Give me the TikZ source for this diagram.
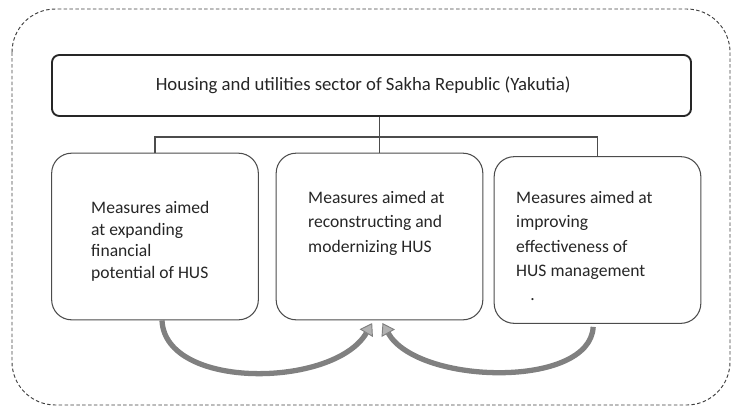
\documentclass[tikz,border=0pt]{standalone}
\usepackage{fontspec}
\setmainfont{Carlito}
\usetikzlibrary{arrows.meta}

\tikzset{
  frame/.style={draw=black!75, dash pattern=on 3pt off 2pt, line width=0.8pt, rounded corners=1.3cm},
  headbox/.style={draw=black!85, line width=1.6pt, rounded corners=0.22cm, minimum width=19.17cm, minimum height=1.83cm, font=\fontsize{16}{19}\selectfont, text=black!85},
  measure/.style={draw=black!70, line width=0.9pt, rounded corners=0.6cm, minimum width=6.2cm, minimum height=5cm},
  mtext/.style={align=left, anchor=north west, inner sep=0pt, font=\fontsize{15}{20.8}\selectfont, text=black!85},
  link/.style={draw=black!70, line width=1pt},
  feedback/.style={draw=black!50, line width=4.5pt, -{Triangle[width=13pt,length=10pt,line width=0.8pt,fill=black!30]}}
}

\begin{document}
\begin{tikzpicture}[x=0.03cm, y=-0.03cm]
\useasboundingbox (0,0) rectangle (732,409);
\draw[frame] (12,9) rectangle (730,405);

% sector and the three groups of measures
\node[headbox] (sector) at (371.5,85.5) {Housing and utilities sector of Sakha Republic (Yakutia)\hspace*{0.5cm}};
\node[measure] (fin) at (155,236.5) {};
\node[measure] (mod) at (379.5,236.5) {};
\node[measure] (mgmt) at (597.5,240) {};

\node[mtext, font=\fontsize{15}{18.5}\selectfont] (fintext) at (91,201) {Measures aimed\\at expanding\\financial\\potential of HUS};
\node[mtext] (modtext) at (308,191) {Measures aimed at\\reconstructing and\\modernizing HUS};
\node[mtext] (mgmttext) at (516,191) {Measures aimed at\\improving\\effectiveness of\\HUS management\\\hspace*{12pt}.};

% tree lines
\coordinate (bar) at (378,137);
\draw[link] (sector.south -| mod.north) -- (mod.north);
\draw[link] (fin.north) |- (bar) -| (mgmt.north);

% curved arrows
\draw[feedback] ([xshift=0.21cm]fin.south) .. controls +(3,70) and +(-38,65) .. ([xshift=-0.22cm,yshift=-0.08cm]mod.south);
\draw[feedback] ([xshift=-0.13cm,yshift=-0.09cm]mgmt.south) .. controls +(-3,62) and +(35,62) .. ([xshift=0.09cm,yshift=-0.08cm]mod.south);
\end{tikzpicture}
\end{document}
